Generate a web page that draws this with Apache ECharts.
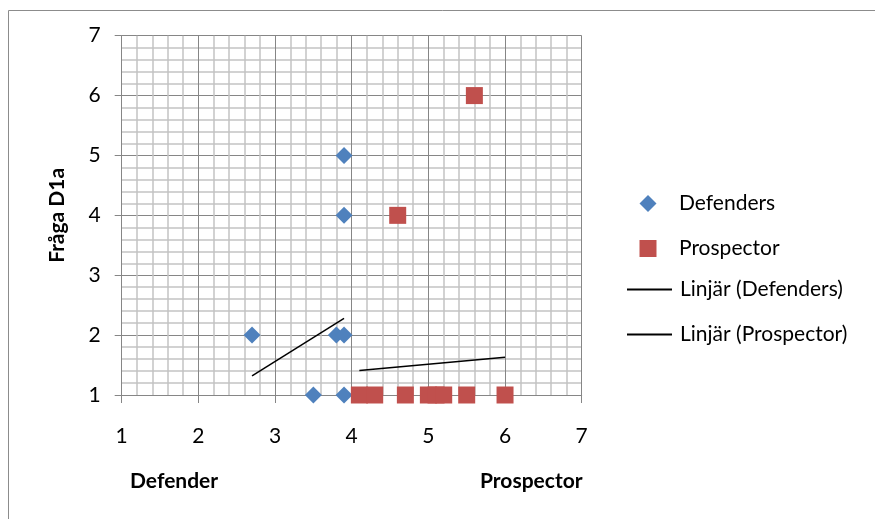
<!DOCTYPE html>
<html><head><meta charset="utf-8">
<script src="https://cdn.jsdelivr.net/npm/echarts@6/dist/echarts.min.js"></script>
<style>html,body{margin:0;padding:0;background:#fff}#c{width:875px;height:519px}</style>
</head><body><div id="c"></div>
<script>
var defendersX = [3.9, 3.9, 2.7, 3.8, 3.9, 3.5, 3.9];
var defendersY = [5, 4, 2, 2, 2, 1, 1];
var prospectorX = [5.6, 4.6, 4.1, 4.3, 4.7, 5.0, 5.1, 5.2, 5.5, 6.0];
var prospectorY = [6, 4, 1, 1, 1, 1, 1, 1, 1, 1];
var trendDefX = [2.7, 3.9];
var trendDefY = [1.32, 2.28];
var trendProX = [4.1, 6.0];
var trendProY = [1.41, 1.63];
var seriesNames = ['Defenders', 'Prospector', 'Linjär (Defenders)', 'Linjär (Prospector)'];
var yTitle = 'Fråga D1a';
var leftLabel = 'Defender';
var rightLabel = 'Prospector';

function zip(a, b) { return a.map(function (v, i) { return [v, b[i]]; }); }

var FONT = 'Lato';
var FS = 21;
var chart = echarts.init(document.getElementById('c'), null, {renderer: 'canvas'});
var axisCommon = {
  type: 'value', min: 1, max: 7, interval: 1,
  axisLine: {show: true, onZero: false, lineStyle: {color: '#868686', width: 1}},
  axisTick: {show: true, length: 7, lineStyle: {color: '#868686'}},
  minorTick: {show: false, splitNumber: 5},
  splitLine: {show: true, lineStyle: {color: '#868686', width: 1}},
  minorSplitLine: {show: true, lineStyle: {color: '#c3c3c3', width: 1.5}},
  axisLabel: {color: '#000', fontFamily: FONT, fontSize: FS}
};
var xAxis = echarts.util.merge({}, axisCommon, true);
xAxis.axisLabel.margin = 31;
xAxis.axisTick.length = 8;
var yAxis = echarts.util.merge({}, axisCommon, true);
yAxis.axisLabel.margin = 21;
yAxis.name = yTitle;
yAxis.nameLocation = 'middle';
yAxis.nameGap = 54;
yAxis.nameTextStyle = {color: '#000', fontFamily: FONT, fontSize: 21, fontWeight: 'bold'};

var legendText = {color: '#000', fontFamily: FONT, fontSize: FS};
chart.setOption({
  animation: false,
  grid: {left: 121.7, right: 293.3, top: 35.7, bottom: 124, containLabel: false},
  xAxis: xAxis,
  yAxis: yAxis,
  legend: [
    {
      orient: 'vertical', left: 634.5, top: 188, itemGap: 24,
      itemWidth: 17, itemHeight: 17,
      textStyle: echarts.util.extend({padding: [0, 0, 0, 17.5]}, legendText),
      data: [
        {name: seriesNames[0], icon: 'diamond'},
        {name: seriesNames[1], icon: 'rect'}
      ]
    },
    {
      orient: 'vertical', left: 621, top: 274, itemGap: 24,
      itemWidth: 45, itemHeight: 17,
      textStyle: echarts.util.extend({padding: [0, 0, 0, 3]}, legendText),
      itemStyle: {opacity: 0},
      data: [
        {name: seriesNames[2]},
        {name: seriesNames[3]}
      ]
    }
  ],
  graphic: [
    {type: 'rect', shape: {x: 8.5, y: 10.5, width: 1000, height: 1000}, style: {fill: 'none', stroke: '#8c8c8c', lineWidth: 1}, silent: true, z: -1},
    {type: 'text', left: 130, top: 471, style: {text: leftLabel, font: 'bold 21px ' + FONT, fill: '#000'}},
    {type: 'text', left: 480, top: 471, style: {text: rightLabel, font: 'bold 21px ' + FONT, fill: '#000'}}
  ],
  series: [
    {name: seriesNames[0], type: 'scatter', symbol: 'diamond', symbolSize: 17,
     itemStyle: {color: '#4f81bd', opacity: 1}, data: zip(defendersX, defendersY), z: 3},
    {name: seriesNames[1], type: 'scatter', symbol: 'rect', symbolSize: 17,
     itemStyle: {color: '#c0504d', opacity: 1}, data: zip(prospectorX, prospectorY), z: 4},
    {name: seriesNames[2], type: 'line', symbol: 'none', showSymbol: false,
     lineStyle: {color: '#000', width: 1.5}, itemStyle: {color: '#000'}, data: zip(trendDefX, trendDefY), z: 5},
    {name: seriesNames[3], type: 'line', symbol: 'none', showSymbol: false,
     lineStyle: {color: '#000', width: 1.5}, itemStyle: {color: '#000'}, data: zip(trendProX, trendProY), z: 5}
  ]
});
</script></body></html>
